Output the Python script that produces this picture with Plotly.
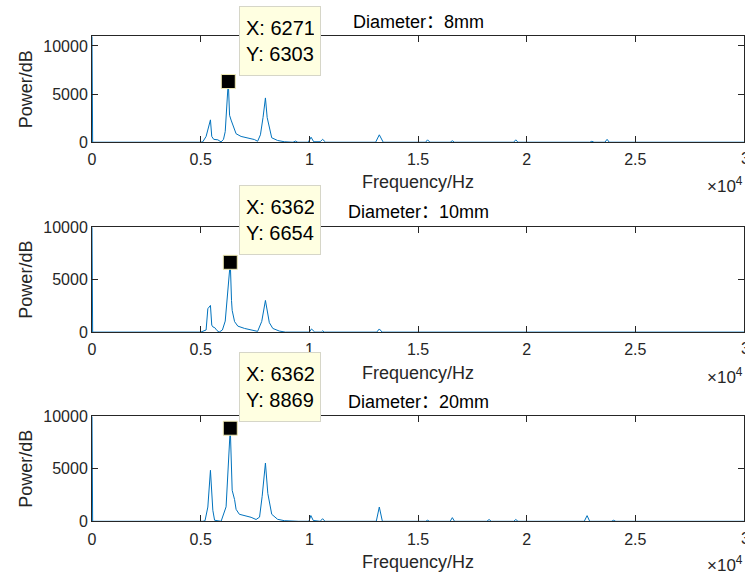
import plotly.graph_objects as go

# ---------------- data ----------------
labels = ["Diameter：8mm", "Diameter：10mm", "Diameter：20mm"]

freq_8 = [0, 30, 5000, 5100, 5250, 5370, 5450, 5510, 5600, 5790, 5940, 6050, 6130, 6271, 6330,
          6400, 6520, 6630, 6860, 7170, 7470, 7620, 7750, 7870, 7980, 8060, 8180, 8270, 8540,
          8850, 9250, 9360, 9470, 9950, 10080, 10200, 10500, 10610, 10750, 13050, 13220, 13400,
          15350, 15440, 15550, 16480, 16580, 16680, 19400, 19500, 19600, 22900, 23000, 23100,
          23600, 23700, 23800, 25100, 25200, 25300, 30000]
power_8 = [11000, 0, 0, 50, 600, 1600, 2320, 600, 300, 250, 30, 300, 1100, 6303, 2800,
           2300, 1560, 880, 600, 450, 280, 100, 770, 2570, 4600, 2570, 1180, 460, 180,
           50, 0, 120, 0, 0, 520, 50, 50, 300, 0, 0, 770, 0,
           0, 250, 0, 0, 150, 0, 0, 250, 0, 0, 100, 0,
           0, 300, 0, 0, 60, 0, 0]

freq_10 = [0, 30, 5000, 5150, 5250, 5330, 5450, 5510, 5560, 5650, 5750, 5850, 6000, 6130, 6362,
           6420, 6450, 6560, 6710, 7020, 7320, 7620, 7810, 7980, 8160, 8320, 8620, 8900, 10000,
           10100, 10250, 10550, 10610, 10700, 13100, 13220, 13350, 22800, 22900, 23000, 24000,
           24100, 24200, 30000]
power_10 = [10000, 0, 0, 80, 200, 2230, 2540, 670, 500, 420, 150, 0, 200, 1050, 6654,
            3000, 2070, 1000, 570, 350, 230, 70, 1020, 3020, 900, 350, 100, 0, 0,
            300, 0, 0, 120, 0, 0, 300, 0, 0, 60, 0, 0,
            50, 0, 0]

freq_20 = [0, 30, 5100, 5200, 5330, 5450, 5560, 5640, 5940, 6060, 6170, 6362, 6420, 6450, 6560,
           6630, 6780, 7020, 7320, 7550, 7710, 7830, 7980, 8090, 8270, 8540, 8850, 9500, 9980,
           10070, 10180, 10500, 10610, 10720, 13080, 13220, 13360, 15350, 15440, 15530, 16480,
           16580, 16680, 18170, 18270, 18370, 19400, 19500, 19600, 22650, 22780, 22900, 23900,
           24000, 24100, 30000]
power_20 = [10000, 0, 0, 50, 1360, 4860, 1050, 100, 0, 700, 1380, 8869, 3500, 2950, 2070,
            1140, 670, 570, 380, 170, 400, 2380, 5550, 2650, 670, 190, 60, 0, 0,
            550, 80, 0, 250, 0, 0, 1360, 0, 0, 100, 0, 0,
            350, 0, 0, 170, 0, 0, 170, 0, 0, 540, 0, 0,
            100, 0, 0]

tip_x = [6271, 6362, 6362]
tip_y = [6303, 6654, 8869]
y_max = [11000, 10000, 10000]

x_tickvals = [0, 5000, 10000, 15000, 20000, 25000, 30000]
x_ticktext = ["0", "0.5", "1", "1.5", "2", "2.5", "3"]
y_tickvals = [0, 5000, 10000]
y_ticktext = ["0", "5000", "10000"]

freqs = [freq_8, freq_10, freq_20]
powers = [power_8, power_10, power_20]

# ---------------- layout helpers ----------------
W, H = 745, 575
ML, MR = 92, 1
PW = W - ML - MR
FONT = "Arial, Liberation Sans, sans-serif"
TFONT = "Arial, Liberation Sans, Noto Sans CJK SC, sans-serif"
BLUE = "#0072BD"
AX = "#262626"


def Y(p):
    # screen pixel (as seen in the target) -> layout pixel
    return (p - 7.4) / 0.971


# (top px, bottom px) of each axes box, as seen on screen
boxes = [(35.7, 141.7), (226.7, 331.7), (416.0, 521.0)]
tips = [5, 185, 352]   # datatip box top px
title_y = [21.5, 211.7, 401.3]
xtitle_y = [182.0, 372.7, 562.0]
exp_y = [185.0, 376.0, 564.0]
tick_y = [158.0, 348.0, 538.0]


def py(p):
    return 1 - Y(p) / H


def px(p):
    return (p - ML) / PW


fig = go.Figure()
annotations = []
for i in range(3):
    xa = "x" if i == 0 else f"x{i+1}"
    ya = "y" if i == 0 else f"y{i+1}"
    fig.add_trace(go.Scatter(x=freqs[i], y=powers[i], mode="lines",
                             line=dict(color=BLUE, width=1), xaxis=xa, yaxis=ya,
                             showlegend=False, hoverinfo="skip"))
    fig.add_trace(go.Scatter(x=[tip_x[i]], y=[tip_y[i]], mode="markers",
                             marker=dict(symbol="square", size=14, color="black",
                                         line=dict(color="#F0EBB4", width=1)),
                             xaxis=xa, yaxis=ya, showlegend=False, hoverinfo="skip",
                             cliponaxis=False))
    top, bot = boxes[i]
    axkey = "xaxis" if i == 0 else f"xaxis{i+1}"
    aykey = "yaxis" if i == 0 else f"yaxis{i+1}"
    fig.layout[axkey] = dict(domain=[0, 1], range=[0, 30000], anchor=ya,
                             tickvals=x_tickvals, ticktext=x_ticktext,
                             ticks="inside", ticklen=6, tickcolor=AX, tickwidth=1,
                             ticklabelstandoff=3,
                             showline=True, linecolor=AX, linewidth=1, mirror="allticks",
                             showgrid=False, zeroline=False,
                             tickfont=dict(family=FONT, size=16, color="#262626"))
    fig.layout[aykey] = dict(domain=[py(bot), py(top)], range=[0, y_max[i]], anchor=xa,
                             tickvals=y_tickvals, ticktext=y_ticktext,
                             ticks="inside", ticklen=6, tickcolor=AX, tickwidth=1,
                             showline=True, linecolor=AX, linewidth=1, mirror="allticks",
                             showgrid=False, zeroline=False,
                             tickfont=dict(family=FONT, size=16, color="#262626"))
    # the clipped "3" tick label at the right edge
    annotations.append(dict(text="3", xref="paper", yref="paper",
                            x=px(745), y=py(tick_y[i]), xanchor="center", yanchor="middle",
                            showarrow=False, font=dict(family=FONT, size=16, color="#262626")))
    # title
    annotations.append(dict(text=labels[i], xref="paper", yref="paper",
                            x=px(418), y=py(title_y[i]), xanchor="center", yanchor="middle",
                            showarrow=False, font=dict(family=TFONT, size=18, color="black")))
    # x title
    annotations.append(dict(text="Frequency/Hz", xref="paper", yref="paper",
                            x=px(418), y=py(xtitle_y[i]), xanchor="center", yanchor="middle",
                            showarrow=False, font=dict(family=FONT, size=18, color="#262626")))
    # exponent
    annotations.append(dict(text="×10<sup>4</sup>", xref="paper", yref="paper",
                            x=px(745), y=py(exp_y[i]), xanchor="right", yanchor="middle",
                            showarrow=False, font=dict(family=FONT, size=17, color="#262626")))
    # y title
    annotations.append(dict(text="Power/dB", xref="paper", yref="paper", textangle=-90,
                            x=px(26), y=py((top + bot) / 2), xanchor="center", yanchor="middle",
                            showarrow=False, font=dict(family=FONT, size=18, color="#262626")))
    # datatip box
    annotations.append(dict(text=f"X: {tip_x[i]}<br>Y: {tip_y[i]}", xref="paper", yref="paper",
                            x=px(239), y=py(tips[i]), xanchor="left", yanchor="top", align="left",
                            width=68, height=56,
                            showarrow=False, bgcolor="#FFFFE1", bordercolor="#D6D6C8",
                            borderwidth=1, borderpad=6,
                            font=dict(family=FONT, size=20, color="black")))

fig.update_layout(width=W, height=H, margin=dict(l=ML, r=MR, t=0, b=0),
                  paper_bgcolor="white", plot_bgcolor="white",
                  annotations=annotations, showlegend=False)

fig.write_html("out.html")
